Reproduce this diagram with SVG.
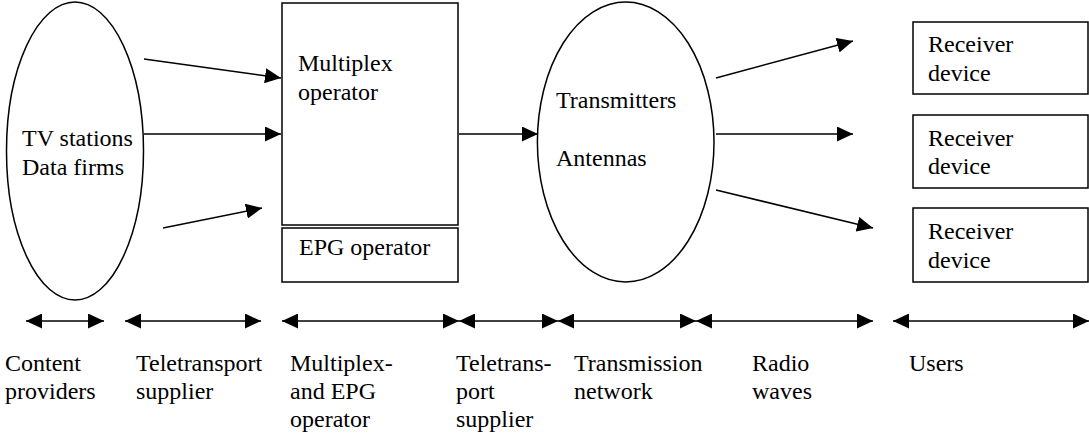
<svg xmlns="http://www.w3.org/2000/svg" width="1089" height="433" viewBox="0 0 1089 433">
<style>
.s{fill:none;stroke:#000;stroke-width:1.5}
.c{stroke:#000;stroke-width:1.5;fill:none}
</style>
<defs>
<marker id="ah" viewBox="0 0 16 15" refX="16" refY="7.5" markerWidth="16" markerHeight="15" markerUnits="userSpaceOnUse" orient="auto-start-reverse">
<path d="M0,0 L16,7.5 L0,15 z" fill="#000"/>
</marker>
</defs>
<rect width="1089" height="433" fill="#fff"/>
<g font-family="Liberation Serif, DejaVu Serif, serif" font-size="24" fill="#000">
<g id="content-providers">
<ellipse class="s" cx="75" cy="151" rx="68.5" ry="149"/>
<text x="22" y="146">TV stations</text>
<text x="22" y="175">Data firms</text>
</g>
<g id="multiplex-operator">
<rect class="s" x="282" y="3" width="176" height="222"/>
<text x="298" y="71">Multiplex</text>
<text x="298" y="100">operator</text>
</g>
<g id="epg-operator">
<rect class="s" x="282" y="228" width="176" height="54"/>
<text x="299" y="255">EPG operator</text>
</g>
<g id="transmitters">
<ellipse class="s" cx="625.7" cy="142" rx="88.3" ry="140"/>
<text x="556" y="108">Transmitters</text>
<text x="556" y="166">Antennas</text>
</g>
<g id="receiver-1">
<rect class="s" x="913" y="22" width="175" height="72"/>
<text x="928" y="52">Receiver</text>
<text x="928" y="81">device</text>
</g>
<g id="receiver-2">
<rect class="s" x="913" y="115" width="175" height="73"/>
<text x="928" y="146">Receiver</text>
<text x="928" y="174">device</text>
</g>
<g id="receiver-3">
<rect class="s" x="913" y="208" width="175" height="74"/>
<text x="928" y="239">Receiver</text>
<text x="928" y="268">device</text>
</g>
<g id="labels">
<text x="5" y="371">Content</text>
<text x="5" y="399">providers</text>
<text x="136" y="371">Teletransport</text>
<text x="136" y="399">supplier</text>
<text x="290" y="371">Multiplex-</text>
<text x="290" y="399">and EPG</text>
<text x="290" y="427">operator</text>
<text x="456" y="371">Teletrans-</text>
<text x="456" y="399">port</text>
<text x="456" y="427">supplier</text>
<text x="574" y="371">Transmission</text>
<text x="574" y="399">network</text>
<text x="752" y="371">Radio</text>
<text x="752" y="399">waves</text>
<text x="909" y="371">Users</text>
</g>
</g>
<g id="connectors">
<line class="c" x1="144" y1="59" x2="281" y2="78" marker-end="url(#ah)"/>
<line class="c" x1="144" y1="134" x2="281" y2="134" marker-end="url(#ah)"/>
<line class="c" x1="163" y1="228" x2="262" y2="208" marker-end="url(#ah)"/>
<line class="c" x1="459" y1="134" x2="538" y2="134" marker-end="url(#ah)"/>
<line class="c" x1="716" y1="78" x2="853" y2="41" marker-end="url(#ah)"/>
<line class="c" x1="716" y1="134" x2="853" y2="134" marker-end="url(#ah)"/>
<line class="c" x1="716" y1="190" x2="873" y2="228" marker-end="url(#ah)"/>
<line class="c" x1="26" y1="321" x2="104" y2="321" marker-start="url(#ah)" marker-end="url(#ah)"/>
<line class="c" x1="125" y1="321" x2="261" y2="321" marker-start="url(#ah)" marker-end="url(#ah)"/>
<line class="c" x1="282" y1="321" x2="459" y2="321" marker-start="url(#ah)" marker-end="url(#ah)"/>
<line class="c" x1="459" y1="321" x2="558" y2="321" marker-start="url(#ah)" marker-end="url(#ah)"/>
<line class="c" x1="558" y1="321" x2="696" y2="321" marker-start="url(#ah)" marker-end="url(#ah)"/>
<line class="c" x1="696" y1="321" x2="873" y2="321" marker-start="url(#ah)" marker-end="url(#ah)"/>
<line class="c" x1="893" y1="321" x2="1089" y2="321" marker-start="url(#ah)" marker-end="url(#ah)"/>
</g>
</svg>
